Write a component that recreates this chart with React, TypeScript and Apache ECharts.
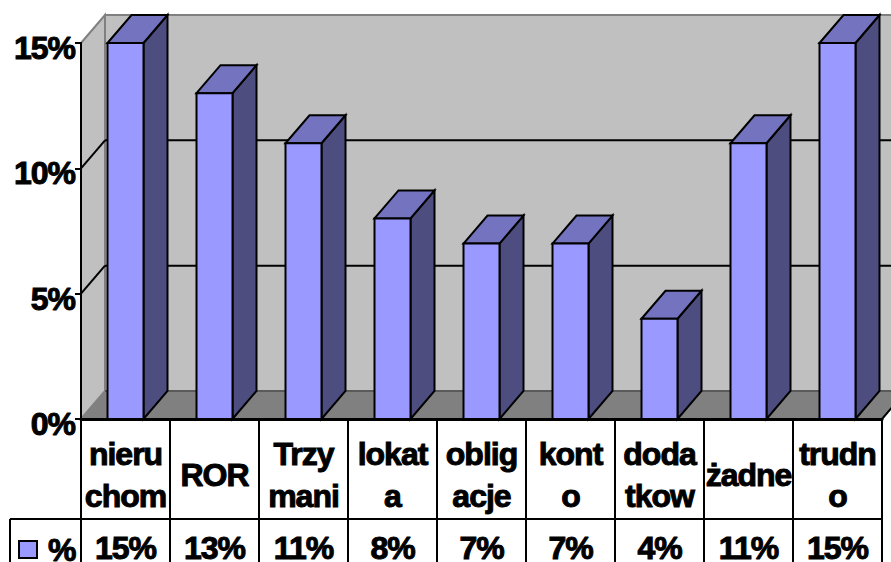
import React, { useEffect, useRef } from "react";
import * as echarts from "echarts";

// Share of answers per form of saving, in percent.
const categories = ["nieru\nchom", "ROR", "Trzy\nmani", "lokat\na", "oblig\nacje", "kont\no", "doda\ntkow", "żadne", "trudn\no"];
const values = [15, 13, 11, 8, 7, 7, 4, 11, 15];
const valueLabels = values.map((v) => v + "%");
const yTicks = [0, 5, 10, 15];

const FONT = "'Liberation Sans', Arial, sans-serif";
const DEPTH_X = 24;
const DEPTH_Y = -28;
const BAR_WIDTH = 36;
const HEADER_ROW = 100;
const TABLE_BOTTOM = 160;
const KEY_CELL = 71;
const BLACK_LINE = { stroke: "#000", lineWidth: 2 };

const poly = (points: number[][], style: any) => ({ type: "polygon", shape: { points }, style });
const seg = (a: number[], b: number[], style: any) => ({
  type: "line",
  shape: { x1: a[0], y1: a[1], x2: b[0], y2: b[1] },
  style,
});

// Walls, floor, gridlines and the rules of the data table under the plot.
function renderFrame(_: any, api: any) {
  const band = api.size([1, 0])[0];
  const x0 = api.coord([0, 0])[0] - band / 2;
  const x1 = x0 + band * categories.length;
  const y0 = api.coord([0, 0])[1];
  const y15 = api.coord([0, 15])[1];
  const children: any[] = [
    poly([[x0, y15], [x0 + DEPTH_X, y15 + DEPTH_Y], [x0 + DEPTH_X, y0 + DEPTH_Y], [x0, y0]], { fill: "#c0c0c0", stroke: "#808080", lineWidth: 2 }),
    poly([[x0 + DEPTH_X, y15 + DEPTH_Y], [x1 + DEPTH_X, y15 + DEPTH_Y], [x1 + DEPTH_X, y0 + DEPTH_Y], [x0 + DEPTH_X, y0 + DEPTH_Y]], { fill: "#c0c0c0", stroke: "#808080", lineWidth: 2 }),
    poly([[x0 + DEPTH_X, y0 + DEPTH_Y], [x1 + DEPTH_X, y0 + DEPTH_Y], [x1, y0], [x0, y0]], { fill: "#808080", stroke: "#808080", lineWidth: 1 }),
    seg([x1, y0], [x1 + DEPTH_X, y0 + DEPTH_Y], BLACK_LINE),
  ];
  yTicks.slice(1, -1).forEach((t) => {
    const y = api.coord([0, t])[1];
    children.push(seg([x0, y], [x0 + DEPTH_X, y + DEPTH_Y], BLACK_LINE));
    children.push(seg([x0 + DEPTH_X, y + DEPTH_Y], [x1 + DEPTH_X, y + DEPTH_Y], BLACK_LINE));
  });
  children.push(seg([x0 + DEPTH_X, y0 + DEPTH_Y], [x1 + DEPTH_X, y0 + DEPTH_Y], { stroke: "#5a5a5a", lineWidth: 2 }));
  for (let i = 0; i <= categories.length; i++) {
    const x = x0 + band * i;
    children.push(seg([x, y0], [x, y0 + TABLE_BOTTOM], BLACK_LINE));
  }
  children.push(seg([x0 - KEY_CELL, y0 + HEADER_ROW], [x1, y0 + HEADER_ROW], BLACK_LINE));
  children.push(seg([x0 - KEY_CELL, y0 + HEADER_ROW], [x0 - KEY_CELL, y0 + TABLE_BOTTOM], BLACK_LINE));
  return { type: "group", children };
}

// One box per category: right side, top, then the front face.
function renderBar(_: any, api: any) {
  const [cx, top] = api.coord([api.value(0), api.value(1)]);
  const bottom = api.coord([api.value(0), 0])[1];
  const l = cx - BAR_WIDTH / 2;
  const r = cx + BAR_WIDTH / 2;
  const line = { stroke: "#000", lineWidth: 2, lineJoin: "miter" };
  return {
    type: "group",
    children: [
      poly([[r, top], [r + DEPTH_X, top + DEPTH_Y], [r + DEPTH_X, bottom + DEPTH_Y], [r, bottom]], { fill: "#4d4d80", ...line }),
      poly([[l, top], [l + DEPTH_X, top + DEPTH_Y], [r + DEPTH_X, top + DEPTH_Y], [r, top]], { fill: "#7373bf", ...line }),
      poly([[l, top], [r, top], [r, bottom], [l, bottom]], { fill: "#9999ff", ...line }),
    ],
  };
}

export default function App() {
  const ref = useRef<HTMLDivElement>(null);

  useEffect(() => {
    const chart = echarts.init(ref.current!, null, { renderer: "svg" });
    const labelBase = {
      color: "#000",
      fontFamily: FONT,
      fontWeight: "bold" as const,
      fontSize: 32,
      textBorderColor: "#000",
      textBorderWidth: 1,
    };
    chart.setOption({
      animation: false,
      backgroundColor: "#fff",
      grid: { left: 81, top: 43, width: 801, height: 376, containLabel: false, outerBoundsMode: "none" },
      legend: {
        left: 18,
        top: 533,
        padding: 0,
        itemWidth: 18,
        itemHeight: 17,
        itemGap: 0,
        data: [{ name: "%", icon: "rect", itemStyle: { color: "#9999ff", borderColor: "#000", borderWidth: 2 } }],
        textStyle: { ...labelBase, lineHeight: 24, padding: [0, 0, 0, 6] },
      },
      xAxis: [
        {
          type: "category",
          data: categories,
          z: 5,
          axisLine: { lineStyle: { color: "#000", width: 3 } },
          axisTick: { show: false },
          axisLabel: { ...labelBase, interval: 0, margin: 56, lineHeight: 42, verticalAlign: "middle", align: "center" },
        },
        {
          type: "category",
          position: "bottom",
          data: valueLabels,
          axisLine: { show: false },
          axisTick: { show: false },
          axisLabel: { ...labelBase, interval: 0, margin: 129, lineHeight: 24, verticalAlign: "middle", align: "center" },
        },
      ],
      yAxis: {
        type: "value",
        min: 0,
        max: 15,
        interval: 5,
        z: 5,
        axisLine: { show: true, lineStyle: { color: "#000", width: 2 } },
        axisTick: { show: true, length: 6, lineStyle: { color: "#000", width: 2 } },
        splitLine: { show: false },
        // A short top-aligned line box sets the percent labels slightly below their ticks.
        axisLabel: { ...labelBase, margin: 6, formatter: "{value}%", verticalAlign: "top", lineHeight: 10 },
      },
      series: [
        { type: "custom", name: "frame", silent: true, z: 1, renderItem: renderFrame, data: [[0, 0]], encode: { x: 0, y: 1 } },
        {
          type: "custom",
          name: "%",
          silent: true,
          z: 2,
          renderItem: renderBar,
          data: values.map((v, i) => [i, v]),
          encode: { x: 0, y: 1 },
        },
      ],
    });
    return () => chart.dispose();
  }, []);

  return (
    <div
      ref={ref}
      style={{ position: "fixed", left: 0, top: 0, width: 891, height: 562, letterSpacing: "-1px" }}
    />
  );
}
